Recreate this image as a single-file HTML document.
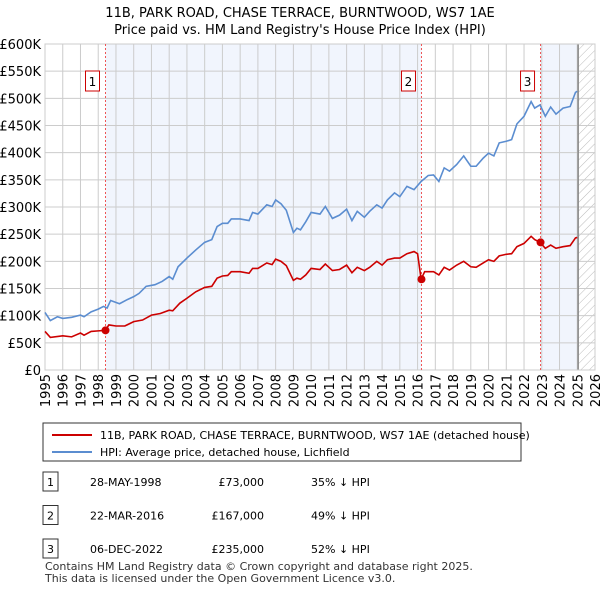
<!DOCTYPE html>
<html><head><meta charset="utf-8"><style>
body{margin:0;background:#fff;font-family:"Liberation Sans","DejaVu Sans",sans-serif;}
svg text{font-family:"DejaVu Sans","Liberation Sans",sans-serif;}
</style></head><body>
<svg id="c" width="600" height="590" xmlns="http://www.w3.org/2000/svg">
<defs><pattern id="hatch" width="6" height="6" patternUnits="userSpaceOnUse" patternTransform="rotate(45)"><line x1="0" y1="0" x2="0" y2="6" stroke="#bbb" stroke-width="1"/></pattern></defs>
<text x="300" y="17" text-anchor="middle" font-size="13" fill="#000">11B, PARK ROAD, CHASE TERRACE, BURNTWOOD, WS7 1AE</text>
<text x="300" y="34" text-anchor="middle" font-size="13" fill="#000">Price paid vs. HM Land Registry's House Price Index (HPI)</text>
<g id="plot"></g>
<g>
<rect x="43" y="423" width="478" height="38" fill="#fff" stroke="#333"/>
<line x1="52" y1="435" x2="92" y2="435" stroke="#cc0000" stroke-width="2"/>
<text x="100" y="439" font-size="11">11B, PARK ROAD, CHASE TERRACE, BURNTWOOD, WS7 1AE (detached house)</text>
<line x1="52" y1="452" x2="92" y2="452" stroke="#5b8dd0" stroke-width="2"/>
<text x="100" y="456" font-size="11">HPI: Average price, detached house, Lichfield</text>
</g>
<g id="table" font-size="11"></g>
<text x="45" y="570" font-size="11" fill="#333">Contains HM Land Registry data © Crown copyright and database right 2025.</text>
<text x="45" y="582" font-size="11" fill="#333">This data is licensed under the Open Government Licence v3.0.</text>
</svg>
<script>
const hpiYears=[1995,1995.3,1995.7,1996,1996.5,1997,1997.2,1997.6,1998,1998.3,1998.5,1998.7,1999.2,1999.6,2000,2000.3,2000.7,2001.2,2001.6,2002,2002.2,2002.5,2003,2003.5,2004,2004.4,2004.7,2005,2005.3,2005.5,2006,2006.5,2006.7,2007,2007.5,2007.8,2008,2008.3,2008.6,2009,2009.2,2009.4,2009.7,2010,2010.5,2010.8,2011.2,2011.6,2012,2012.3,2012.6,2013,2013.3,2013.7,2014,2014.3,2014.7,2015,2015.4,2015.8,2016.2,2016.6,2016.9,2017.2,2017.5,2017.8,2018.2,2018.6,2019,2019.3,2019.7,2020,2020.3,2020.6,2021,2021.3,2021.6,2022,2022.4,2022.6,2022.9,2023.2,2023.5,2023.8,2024.2,2024.6,2024.9,2025];
const hpiValues=[106,91,98,95,97,101,98,107,112,117,114,128,122,129,135,141,154,157,163,172,167,190,206,221,235,240,264,270,270,278,278,275,290,287,304,301,313,306,294,253,261,258,273,290,287,301,279,285,296,275,292,281,292,304,298,313,326,319,338,332,347,358,359,347,372,366,378,394,375,375,390,399,394,418,421,424,453,467,494,482,488,467,484,471,482,485,511,513];
const priceYears=[1995,1995.3,1996,1996.5,1997,1997.2,1997.6,1998,1998.4,1998.6,1999,1999.5,2000,2000.5,2001,2001.5,2002,2002.2,2002.6,2003,2003.5,2004,2004.4,2004.7,2005,2005.3,2005.5,2006,2006.5,2006.7,2007,2007.5,2007.8,2008,2008.3,2008.6,2009,2009.2,2009.4,2009.7,2010,2010.5,2010.8,2011.2,2011.6,2012,2012.3,2012.6,2013,2013.3,2013.7,2014,2014.3,2014.7,2015,2015.4,2015.8,2016,2016.2,2016.4,2016.9,2017.2,2017.5,2017.8,2018.2,2018.6,2019,2019.3,2019.7,2020,2020.3,2020.6,2021,2021.3,2021.6,2022,2022.4,2022.6,2022.9,2023.2,2023.5,2023.8,2024.2,2024.6,2024.9,2025];
const priceValues=[71,60,63,61,68,64,71,72,73,83,81,81,89,92,101,104,110,109,123,132,144,152,154,169,173,174,181,181,178,187,187,197,194,204,200,192,165,169,167,175,187,185,195,183,185,193,179,189,183,189,200,193,203,206,206,214,218,214,167,181,181,175,189,184,193,200,190,189,197,203,200,210,213,214,227,233,246,240,235,224,230,224,227,229,243,244];
const saleLabels=["1","2","3"];
const saleYears=[1998.41,2016.22,2022.93];
const saleValues=[73,167,235];
const saleDates=["28-MAY-1998","22-MAR-2016","06-DEC-2022"];
const salePrices=["£73,000","£167,000","£235,000"];
const saleDiffs=["35% ↓ HPI","49% ↓ HPI","52% ↓ HPI"];
const yTicks=[0,50,100,150,200,250,300,350,400,450,500,550,600];
const xTicks=[1995,1996,1997,1998,1999,2000,2001,2002,2003,2004,2005,2006,2007,2008,2009,2010,2011,2012,2013,2014,2015,2016,2017,2018,2019,2020,2021,2022,2023,2024,2025,2026];
const dataEnd=2025.05;

const L=45,R=595,T=44,B=370;
const X=y=>L+(y-1995)/(2026-1995)*(R-L);
const Y=v=>B-v/600*(B-T);
const NS="http://www.w3.org/2000/svg";
const g=document.getElementById('plot');
function mk(tag,attrs,parent){const e=document.createElementNS(NS,tag);for(const k in attrs)e.setAttribute(k,attrs[k]);(parent||g).appendChild(e);return e;}

let r=mk('rect',{x:X(saleYears[0]),y:T,width:X(saleYears[1])-X(saleYears[0]),height:B-T,fill:'#eef3fc',opacity:0.8});


r=mk('rect',{x:X(saleYears[2]),y:T,width:X(dataEnd)-X(saleYears[2]),height:B-T,fill:'#eef3fc',opacity:0.8});


r=mk('rect',{x:X(dataEnd),y:T,width:R-X(dataEnd),height:B-T,fill:'url(#hatch)'});



yTicks.forEach(v=>{
 const l=mk('line',{x1:L,x2:R,y1:Y(v),y2:Y(v),stroke:'#ccc','stroke-width':1});
 
 
 const t=mk('text',{x:L-4,y:Y(v)+5,'text-anchor':'end','font-size':13,fill:'#000'});
 t.textContent='£'+(v===0?'0':v+'K');
 
 
});
xTicks.forEach(yr=>{
 const l=mk('line',{x1:X(yr),x2:X(yr),y1:T,y2:B,stroke:'#ccc','stroke-width':1});
 
 
 const t=mk('text',{x:0,y:0,'text-anchor':'end','font-size':13,fill:'#000',transform:`translate(${X(yr)+5},${B+4}) rotate(-90)`});
 t.textContent=yr;
 
 
});
let ex=mk('line',{x1:X(dataEnd),x2:X(dataEnd),y1:T,y2:B,stroke:'#888','stroke-width':1.5});


let bd=mk('rect',{x:L,y:T,width:R-L,height:B-T,fill:'none',stroke:'#ccc'});



saleYears.forEach((yr,i)=>{
 const l=mk('line',{x1:X(yr),x2:X(yr),y1:T,y2:B,stroke:'#e55','stroke-width':1,'stroke-dasharray':'2,2'});
 
 
 const b=mk('rect',{x:X(yr)-20,y:71,width:14,height:20,fill:'#fff',stroke:'#cc0000'});
 
 
 const t=mk('text',{x:X(yr)-13,y:86,'text-anchor':'middle','font-size':12});
 t.textContent=saleLabels[i];
 
 
});

const hp=mk('polyline',{points:hpiYears.map((y,i)=>X(y)+','+Y(hpiValues[i])).join(' '),fill:'none',stroke:'#5b8dd0','stroke-width':1.6});


const pp=mk('polyline',{points:priceYears.map((y,i)=>X(y)+','+Y(priceValues[i])).join(' '),fill:'none',stroke:'#cc0000','stroke-width':1.6});


saleYears.forEach((yr,i)=>{
 const c=mk('circle',{cx:X(yr),cy:Y(saleValues[i]),r:4,fill:'#cc0000'});
 
 
});

const tb=document.getElementById('table');
saleLabels.forEach((lab,i)=>{
 const y=482+i*33.5;
 const b=mk('rect',{x:43,y:y-10,width:15,height:19,fill:'#fff',stroke:'#333'},tb);
 
 
 const cells=[[50.5,lab,'middle'],[90,saleDates[i],'start'],[264,salePrices[i],'end'],[311,saleDiffs[i],'start']];
 cells.forEach(([x,s,a],j)=>{
  const t=mk('text',{x:x,y:y+4,'text-anchor':a,'font-size':11},tb);
  t.textContent=s;
  
  
 });
});
</script>
</body></html>
